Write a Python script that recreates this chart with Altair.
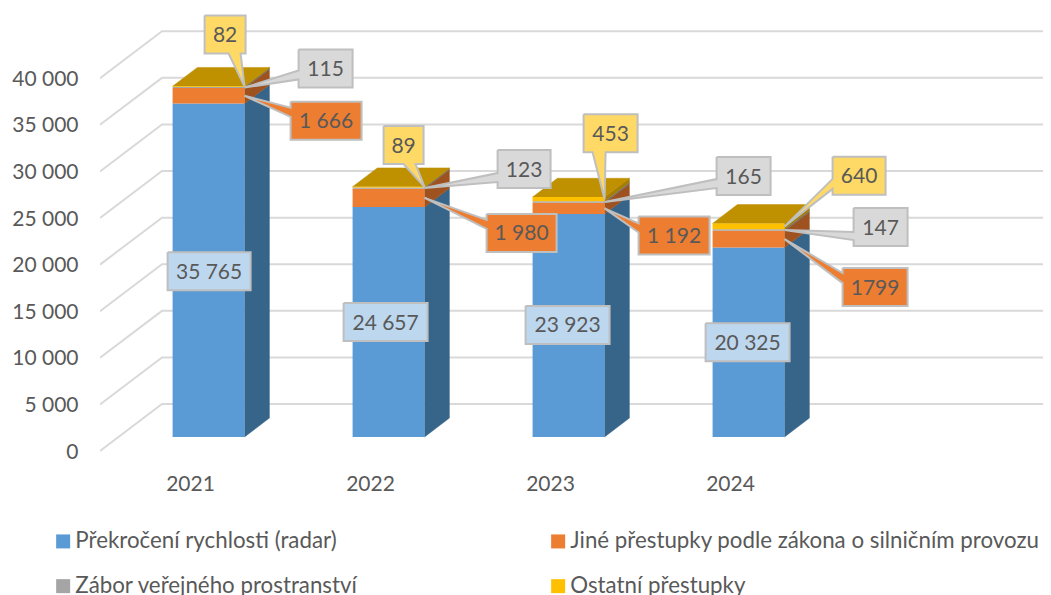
import altair as alt
import pandas as pd

# ---- values
YEARS = ["2021", "2022", "2023", "2024"]
SERIES = ["Překročení rychlosti (radar)", "Jiné přestupky podle zákona o silničním provozu",
          "Zábor veřejného prostranství", "Ostatní přestupky"]
RADAR = [35765, 24657, 23923, 20325]
JINE = [1666, 1980, 1192, 1799]
ZABOR = [115, 123, 165, 147]
OSTATNI = [82, 89, 453, 640]
RADAR_LABELS = ["35 765", "24 657", "23 923", "20 325"]
JINE_LABELS = ["1 666", "1 980", "1 192", "1799"]
ZABOR_LABELS = ["115", "123", "165", "147"]
OSTATNI_LABELS = ["82", "89", "453", "640"]
GRID_VALUES = [0, 5000, 10000, 15000, 20000, 25000, 30000, 35000, 40000]

# ---- styles
FRONT = ["#5B9BD5", "#ED7D31", "#A5A5A5", "#FFC000"]
SIDE = ["#37658A", "#9E521F", "#6E6E6E", "#A67D00"]
TOP = "#BF9000"
BOX = ["#BDD7EE", "#ED7D31", "#D9D9D9", "#FFD966"]
BORDER = "#BFBFBF"
INK = "#595959"
FONT = "Lato"
FS = 21
FS_LEGEND = 22.3

# ---- oblique projection: category units on x, value units on y
PLOT_W, PLOT_H = 943, 451
X_DOMAIN = [-0.5, 4.739]
Y_DOMAIN = [-858, 47533]
PX_X = (X_DOMAIN[1] - X_DOMAIN[0]) / PLOT_W
PX_Y = (Y_DOMAIN[1] - Y_DOMAIN[0]) / PLOT_H
DEPTH_X, DEPTH_Y = 0.3444, 5040
BAR_W = 0.4
D_FRONT, D_BACK = 0.3, 0.7


def proj(u, v, d):
    return u + d * DEPTH_X, v + d * DEPTH_Y


# ---- gridlines (front edge, back edge, along the wall)
grid = []
for g in GRID_VALUES:
    for k, (xx, yy) in enumerate([proj(X_DOMAIN[0], g, 0), proj(X_DOMAIN[0], g, 1), (X_DOMAIN[1], g + DEPTH_Y)]):
        grid.append({"g": g, "k": k, "x": xx, "y": yy})

# ---- bars
table = [RADAR, JINE, ZABOR, OSTATNI]
labels = [RADAR_LABELS, JINE_LABELS, ZABOR_LABELS, OSTATNI_LABELS]
fronts, polys = [], []


def add_poly(rows, pid, pts, fill, stroke, sw=None):
    for k, (xx, yy) in enumerate(pts):
        rows.append({"id": pid, "k": k, "x": xx, "y": yy, "fill": fill, "stroke": stroke})


tips = {}
for i in range(len(YEARS)):
    lo = 0
    c = i
    xl, xr = c - BAR_W / 2, c + BAR_W / 2
    for s in range(4):
        hi = lo + table[s][i]
        a, ya = proj(xl, lo, D_FRONT)
        b, yb = proj(xr, hi, D_FRONT)
        fronts.append({"x": a, "x2": b, "y": ya, "y2": yb, "series": SERIES[s]})
        p = [proj(xr, lo, D_FRONT), proj(xr, lo, D_BACK), proj(xr, hi, D_BACK), proj(xr, hi, D_FRONT)]
        add_poly(polys, f"s{i}{s}", p + p[:1], SIDE[s], SIDE[s])
        tips[(i, s)] = proj(xr, (lo + hi) / 2, D_FRONT)
        lo = hi
    p = [proj(xl, lo, D_FRONT), proj(xr, lo, D_FRONT), proj(xr, lo, D_BACK), proj(xl, lo, D_BACK)]
    add_poly(polys, f"t{i}", p + p[:1], TOP, TOP)

# ---- callouts: pixel offsets of each box from its data anchor
# (year, series): left, top, width, height, pointer side, pointer base from, to
LAYOUT = {
    (0, 0): (-77, -18, 83, 38, None, 0, 0),
    (1, 0): (-81, -19, 84, 38, None, 0, 0),
    (2, 0): (-79, -19.5, 84, 38, None, 0, 0),
    (3, 0): (-79, -19, 84, 38, None, 0, 0),
    (0, 3): (-40, -71, 41, 38, "bottom", 24, 36),
    (1, 3): (-41, -61, 40, 38, "bottom", 20, 32),
    (2, 3): (-21, -85, 54, 38, "bottom", 9, 22),
    (3, 3): (48, -69.5, 53, 38, "left", 22, 32),
    (0, 2): (54, -38, 54, 38, "left", 21, 30),
    (1, 2): (73, -38, 53, 38, "left", 23, 32),
    (2, 2): (112, -45, 54, 38, "left", 22, 31),
    (3, 2): (69, -22, 54, 38, "left", 24, 32),
    (0, 1): (46, 6, 71, 38, "left", 6, 15),
    (1, 1): (62, 16, 70, 38, "left", 6, 15),
    (2, 1): (34, 8, 71, 38, "left", 7, 16),
    (3, 1): (58, 29, 65, 38, "left", 5, 15),
}

call_polys, call_text = [], []
for (i, s), (l, t, w, h, side, b0, b1) in LAYOUT.items():
    tx, ty = tips[(i, s)]

    def P(px, py):
        return tx + px * PX_X, ty - py * PX_Y

    pts = [P(l, t), P(l + w, t), P(l + w, t + h)]
    if side == "bottom":
        pts += [P(l + b1, t + h), P(0, 0), P(l + b0, t + h)]
    pts.append(P(l, t + h))
    if side == "left":
        pts += [P(l, t + b1), P(0, 0), P(l, t + b0)]
    pts.append(P(l, t))
    add_poly(call_polys, f"c{i}{s}", pts, BOX[s], BORDER)
    cx, cy = P(l + w / 2, t + h / 2)
    call_text.append({"x": cx, "y": cy, "label": labels[s][i]})

# ---- chart
X = lambda f="x": alt.X(f"{f}:Q", scale=alt.Scale(domain=X_DOMAIN, nice=False, zero=False), title=None)
Y = lambda f="y": alt.Y(f"{f}:Q", scale=alt.Scale(domain=Y_DOMAIN, nice=False, zero=False), title=None)

year_expr = "[" + ",".join(f"'{y}'" for y in YEARS) + "][datum.value]"
x_axis = alt.Axis(values=list(range(len(YEARS))), labelExpr=year_expr, domain=False, ticks=False, grid=False,
                  labelFont=FONT, labelFontSize=FS, labelColor=INK, labelPadding=14, labelOverlap=False,
                  labelBound=False, labelFlush=False)
y_axis = alt.Axis(values=GRID_VALUES, labelExpr="replace(format(datum.value, ','), ',', ' ')", domain=False,
                  ticks=False, grid=False, labelFont=FONT, labelFontSize=FS, labelColor=INK, labelPadding=22,
                  labelOffset=1, labelOverlap=False, labelBound=False, labelFlush=False)

grid_layer = alt.Chart(pd.DataFrame(grid)).mark_line(color="#D9D9D9", strokeWidth=2, clip=True).encode(
    x=alt.X("x:Q", scale=alt.Scale(domain=X_DOMAIN, nice=False, zero=False), title=None, axis=x_axis),
    y=alt.Y("y:Q", scale=alt.Scale(domain=Y_DOMAIN, nice=False, zero=False), title=None, axis=y_axis),
    detail="g:N", order="k:Q")

poly_enc = dict(x=X(), y=Y(), detail="id:N", order="k:Q",
                fill=alt.Fill("fill:N", scale=None), stroke=alt.Stroke("stroke:N", scale=None))
side_layer = alt.Chart(pd.DataFrame(polys)).mark_line(strokeWidth=0.5, interpolate="linear").encode(**poly_enc)

front_layer = alt.Chart(pd.DataFrame(fronts)).mark_rect().encode(
    x=X(), x2="x2:Q", y=Y(), y2="y2:Q",
    fill=alt.Fill("series:N", scale=alt.Scale(domain=SERIES, range=FRONT), legend=alt.Legend(
        title=None, orient="none", legendX=-48, legendY=522, direction="horizontal", columns=2,
        symbolType="square", symbolSize=196, symbolStrokeWidth=0, labelFont=FONT, labelFontSize=FS_LEGEND,
        labelColor=INK, labelLimit=700, columnPadding=189, rowPadding=22, labelOffset=1)))

call_layer = alt.Chart(pd.DataFrame(call_polys)).mark_line(strokeWidth=2, strokeJoin="miter").encode(**poly_enc)
text_layer = alt.Chart(pd.DataFrame(call_text)).mark_text(font=FONT, fontSize=FS, color=INK, dy=1.5).encode(
    x=X(), y=Y(), text="label:N")

chart = alt.layer(grid_layer, side_layer, front_layer, call_layer, text_layer).properties(
    width=PLOT_W, height=PLOT_H,
    padding={"left": 92, "top": 0, "right": 0, "bottom": 136},
    autosize=alt.AutoSizeParams(type="none"),
    background="white",
).configure_view(strokeWidth=0)

chart.save("out.html", embed_options={"renderer": "svg", "actions": False})
